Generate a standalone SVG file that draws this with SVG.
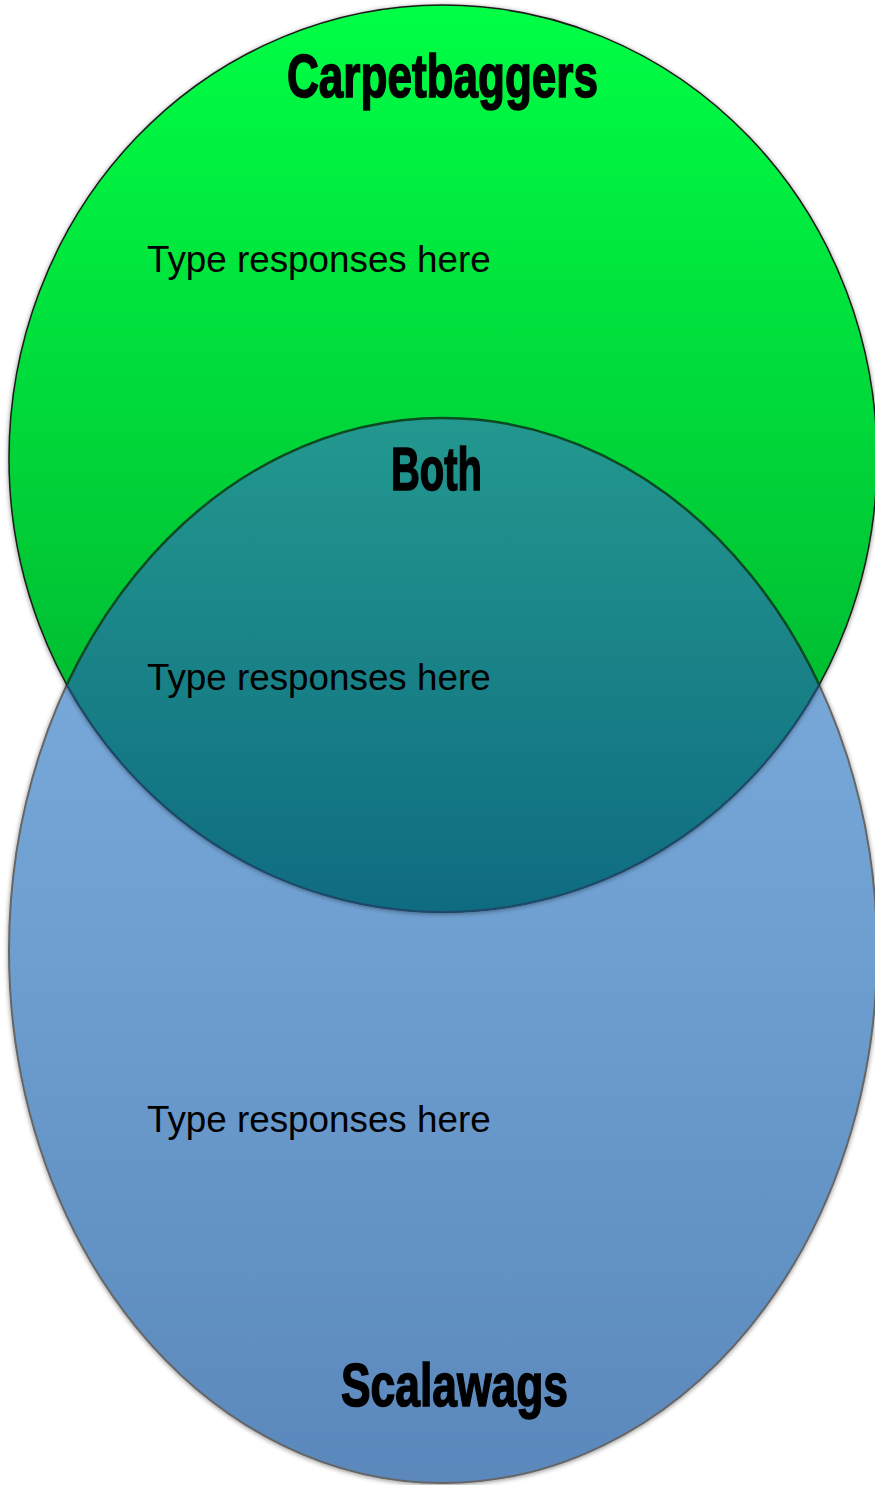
<svg xmlns="http://www.w3.org/2000/svg" width="875" height="1485" viewBox="0 0 875 1485">
<style>
.title{font-family:"Liberation Sans",Arial,sans-serif;font-weight:bold;font-size:61px;fill:#000;stroke:#000;stroke-width:1.6}
.resp{font-family:"Liberation Sans",Arial,sans-serif;font-size:36.8px;fill:#000}
</style>
<defs>
<linearGradient id="gGreen" x1="0" y1="0" x2="0" y2="1">
<stop offset="0" stop-color="#05ff45"/>
<stop offset="0.5" stop-color="#00d438"/>
<stop offset="1" stop-color="#00a82c"/>
</linearGradient>
<linearGradient id="gBlue" x1="0" y1="0" x2="0" y2="1">
<stop offset="0" stop-color="#80b0e0"/>
<stop offset="0.5" stop-color="#6d9fd0"/>
<stop offset="1" stop-color="#5b88bc"/>
</linearGradient>
<linearGradient id="gBoth" gradientUnits="userSpaceOnUse" x1="0" y1="418" x2="0" y2="912">
<stop offset="0" stop-color="#23988f"/>
<stop offset="1" stop-color="#0f6c80"/>
</linearGradient>
<filter id="sh" x="-5%" y="-5%" width="110%" height="110%">
<feGaussianBlur in="SourceAlpha" stdDeviation="2.5"/>
<feOffset dx="0" dy="1" result="b"/>
<feComponentTransfer><feFuncA type="linear" slope="0.45"/></feComponentTransfer>
<feMerge><feMergeNode/><feMergeNode in="SourceGraphic"/></feMerge>
</filter>
<clipPath id="clipGreen"><ellipse cx="443" cy="458.5" rx="434" ry="453.5"/></clipPath>
</defs>
<rect width="875" height="1485" fill="#fff"/>
<g id="scalawags">
<ellipse cx="443" cy="950.5" rx="434" ry="532.5" fill="url(#gBlue)" stroke="#666" stroke-width="2" filter="url(#sh)"/>
</g>
<g id="carpetbaggers">
<ellipse cx="443" cy="458.5" rx="434" ry="453.5" fill="url(#gGreen)" stroke="#1a1a1a" stroke-width="1.5" filter="url(#sh)"/>
</g>
<g id="both">
<g clip-path="url(#clipGreen)">
<ellipse cx="443" cy="950.5" rx="434" ry="532.5" fill="url(#gBoth)" stroke="#0b4a22" stroke-width="2.5"/>
</g>
<path d="M 67 685 A 434 453.5 0 0 0 819 685" fill="none" stroke="#1b4a6a" stroke-width="2"/>
</g>
<g id="connectors"></g>
<g id="labels">
<text class="title" x="287" y="97" textLength="311" lengthAdjust="spacingAndGlyphs">Carpetbaggers</text>
<text class="title" x="391" y="490" textLength="91" lengthAdjust="spacingAndGlyphs">Both</text>
<text class="title" x="341" y="1406" textLength="227" lengthAdjust="spacingAndGlyphs">Scalawags</text>
<text class="resp" x="147" y="272">Type responses here</text>
<text class="resp" x="147" y="690">Type responses here</text>
<text class="resp" x="147" y="1132">Type responses here</text>
</g>
</svg>
